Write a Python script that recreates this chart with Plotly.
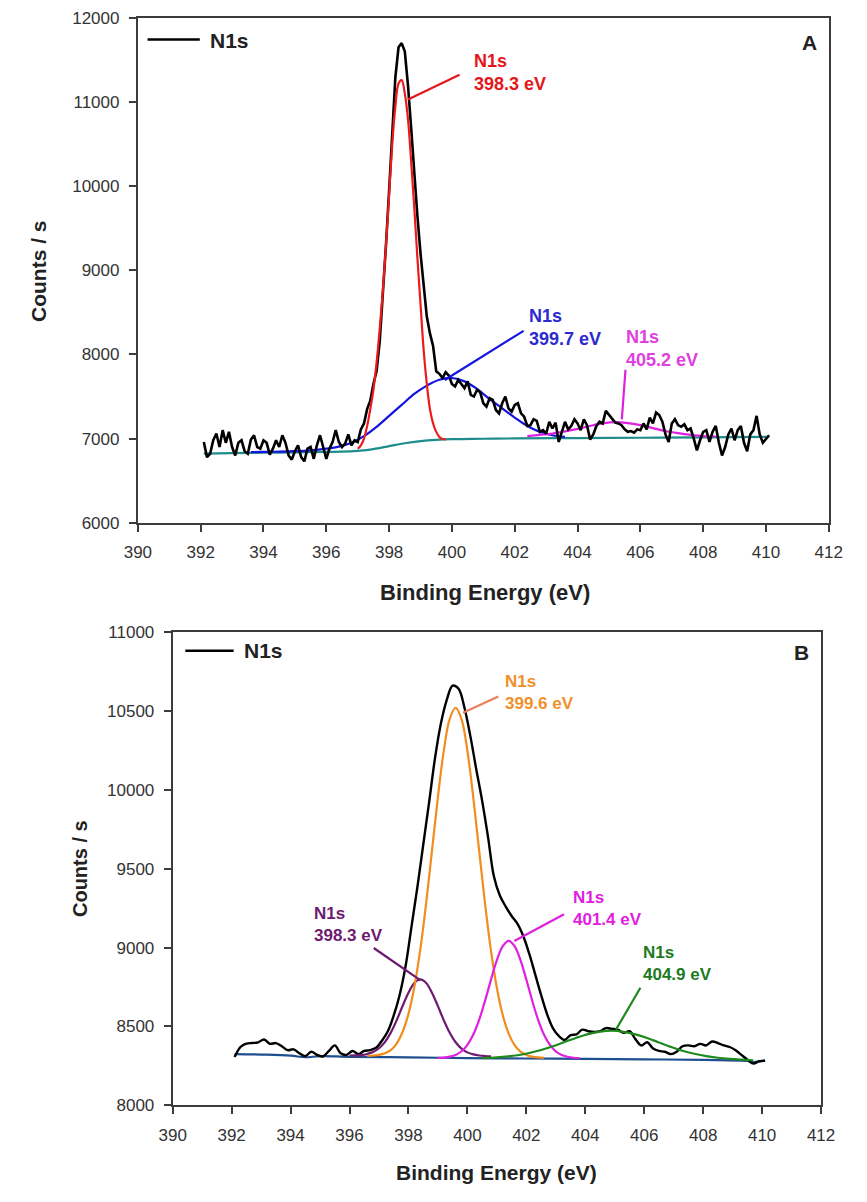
import plotly.graph_objects as go

# ---------------- Panel A data ----------------
energy_a = [round(392.1 + 0.1 * i, 1) for i in range(181)]
counts_a = [
    6960, 6780, 6820, 6980, 7060, 6900, 7100, 6950, 7080, 6900,
    6800, 6950, 6980, 6850, 6820, 6990, 7040, 6900, 6880, 6980,
    6950, 6810, 6880, 6980, 6900, 7040, 6950, 6800, 6750, 6850,
    6920, 6780, 6730, 6880, 6900, 6760, 6920, 7040, 6900, 6760,
    6880, 6960, 7100, 6960, 6900, 6940, 7050, 6920, 6980,
    6960, 7110, 7180, 7350, 7450, 7650, 7800, 8150, 8700, 9300,
    9950, 10700, 11300, 11650, 11700, 11600, 11200, 10700, 10150, 9650,
    9200, 8800, 8450, 8250, 8100, 7800, 7770, 7720, 7790, 7750,
    7650, 7620, 7700, 7650, 7600, 7680, 7520, 7500, 7580, 7550,
    7420, 7380, 7480, 7460, 7340, 7300, 7420, 7500, 7360, 7320,
    7400, 7420, 7300, 7260, 7150, 7160, 7230, 7210, 7080, 7100,
    7060, 7200, 7120, 7190, 6960, 7080, 7200, 7110, 7150, 7230,
    7180, 7100, 7230, 7160, 6990, 7050, 7150, 7200, 7180, 7330,
    7280, 7230, 7190, 7180, 7160, 7110, 7080, 7090, 7070, 7110,
    7100, 7180, 7110, 7250, 7180, 7310, 7280, 7200, 7050, 6960,
    7180, 7230, 7160, 7140, 7170, 7100, 7120, 7000, 6860, 6980,
    7080, 7100, 6960, 7080, 7150, 6950, 6800, 6900, 7050, 7120,
    6980, 7100, 7150, 6950, 6850, 7050, 7100, 7270, 7050, 6950,
    7000, 7040,
]

red_e = [397.0, 397.1, 397.2, 397.3, 397.4, 397.5, 397.6, 397.7, 397.8, 397.9,
         398.0, 398.1, 398.2, 398.3, 398.4, 398.5, 398.6, 398.7, 398.8, 398.9,
         399.0, 399.1, 399.2, 399.3, 399.4, 399.5, 399.6, 399.7, 399.8]
red_c = [6880, 6920, 7000, 7150, 7350, 7580, 7900, 8300, 8750, 9300,
         9900, 10500, 10950, 11220, 11260, 11100, 10800, 10300, 9750, 9150,
         8600, 8050, 7650, 7350, 7180, 7080, 7020, 6995, 6990]

blue_e = [393.6, 394.0, 394.5, 395.0, 395.5, 396.0, 396.4, 396.8, 397.2, 397.6,
          398.0, 398.4, 398.8, 399.2, 399.6, 400.0, 400.4, 400.8, 401.2, 401.6,
          402.0, 402.4, 402.8, 403.2, 403.6]
blue_c = [6840, 6842, 6845, 6850, 6860, 6880, 6905, 6950, 7030, 7140,
          7270, 7400, 7530, 7630, 7700, 7720, 7680, 7590, 7470, 7360,
          7250, 7150, 7080, 7040, 7020]

mag_a_e = [402.4, 402.8, 403.2, 403.6, 404.0, 404.4, 404.8, 405.2, 405.6, 406.0,
           406.4, 406.8, 407.2, 407.6, 408.0, 408.4]
mag_a_c = [7030, 7045, 7060, 7085, 7115, 7150, 7180, 7195, 7185, 7160,
           7125, 7090, 7065, 7045, 7030, 7025]

bg_a_e = [392.1, 393.0, 394.0, 395.0, 396.0, 396.5, 397.0, 397.5, 398.0, 398.5,
          399.0, 399.5, 400.0, 401.0, 402.0, 404.0, 406.0, 408.0, 410.1]
bg_a_c = [6822, 6828, 6832, 6836, 6842, 6845, 6855, 6875, 6910, 6945,
          6970, 6985, 6993, 6998, 7002, 7006, 7010, 7014, 7020]

# ---------------- Panel B data ----------------
energy_b = [round(392.1 + 0.2 * i, 1) for i in range(91)]
counts_b = [
    8306, 8370, 8392, 8395, 8400, 8418, 8390, 8395, 8375, 8350,
    8355, 8330, 8312, 8340, 8320, 8310, 8345, 8380, 8330, 8320,
    8345, 8325, 8345, 8350, 8365, 8410, 8470, 8570, 8700, 8880,
    9130, 9380, 9650, 9920, 10200, 10420, 10570, 10660, 10640, 10520,
    10340, 10130, 9930, 9700, 9450, 9330, 9260, 9200, 9150, 9070,
    8960, 8830, 8700, 8580, 8490, 8440, 8415, 8445, 8450, 8480,
    8470, 8465, 8470, 8490, 8485, 8480, 8460, 8470, 8420, 8380,
    8400, 8360, 8345, 8340, 8325, 8340, 8375, 8380, 8375, 8390,
    8380, 8405, 8395, 8380, 8370, 8350, 8320, 8290, 8265, 8280,
    8282,
]

orange_e = [round(396.6 + 0.2 * i, 1) for i in range(31)]
orange_c = [8314, 8316, 8320, 8330, 8350, 8392, 8465, 8580, 8752, 8987,
            9282, 9617, 9955, 10250, 10450, 10520, 10448, 10246, 9951, 9611,
            9276, 8980, 8744, 8571, 8455, 8382, 8341, 8320, 8309, 8304, 8302]

purple_e = [round(396.0 + 0.2 * i, 1) for i in range(25)]
purple_c = [8316, 8317, 8319, 8326, 8338, 8362, 8401, 8461, 8540, 8630,
            8714, 8776, 8798, 8776, 8713, 8629, 8539, 8460, 8400, 8360,
            8336, 8323, 8316, 8313, 8311]

mag_b_e = [round(399.0 + 0.2 * i, 1) for i in range(25)]
mag_b_c = [8301, 8303, 8309, 8320, 8343, 8384, 8449, 8543, 8664, 8797,
           8921, 9009, 9042, 9009, 8921, 8797, 8663, 8542, 8448, 8383,
           8342, 8319, 8308, 8302, 8300]

green_e = [round(400.5 + 0.4 * i, 1) for i in range(24)]
green_c = [8300, 8303, 8309, 8318, 8332, 8351, 8375, 8402, 8429, 8452,
           8467, 8473, 8466, 8450, 8427, 8399, 8371, 8346, 8327, 8312,
           8302, 8295, 8290, 8286]

bg_b_e = [392.1, 393.0, 394.0, 394.5, 395.0, 396.0, 398.0, 400.0, 402.0, 404.0,
          406.0, 408.0, 409.5, 409.7, 410.1]
bg_b_c = [8325, 8322, 8315, 8305, 8312, 8308, 8304, 8300, 8297, 8295,
          8292, 8288, 8282, 8275, 8285]

x_ticks = [390, 392, 394, 396, 398, 400, 402, 404, 406, 408, 410, 412]
y_ticks_a = [6000, 7000, 8000, 9000, 10000, 11000, 12000]
y_ticks_b = [8000, 8500, 9000, 9500, 10000, 10500, 11000]

FONT = "Liberation Sans, Arial, sans-serif"
AXC = "#3c3c3c"

fig = go.Figure()

def add(x, y, color, width, xa, ya, shape="spline"):
    fig.add_trace(go.Scatter(x=x, y=y, mode="lines", xaxis=xa, yaxis=ya,
                             line=dict(color=color, width=width, shape=shape),
                             showlegend=False, hoverinfo="skip"))

# Panel A
add(bg_a_e, bg_a_c, "#1f8c8c", 2.2, "x", "y")
add(blue_e, blue_c, "#1414e0", 2.2, "x", "y")
add(mag_a_e, mag_a_c, "#e020e0", 2.2, "x", "y")
add(energy_a, counts_a, "#000000", 2.6, "x", "y", "linear")
add(red_e, red_c, "#ee1a1a", 2.2, "x", "y")

# Panel B
add(bg_b_e, bg_b_c, "#1f4e8f", 2.2, "x2", "y2")
add(energy_b, counts_b, "#000000", 2.4, "x2", "y2")
add(purple_e, purple_c, "#6e1a70", 2.2, "x2", "y2")
add(orange_e, orange_c, "#f28c1c", 2.2, "x2", "y2")
add(mag_b_e, mag_b_c, "#e020e0", 2.2, "x2", "y2")
add(green_e, green_c, "#1e8a1e", 2.2, "x2", "y2")

axis_common = dict(showgrid=False, zeroline=False, showline=True, mirror=True,
                   linecolor=AXC, linewidth=2, ticks="outside", ticklen=7,
                   tickwidth=2, tickcolor=AXC, tickformat="d",
                   tickfont=dict(family=FONT, size=17, color="#333333"))

fig.update_layout(
    width=867, height=1202,
    margin=dict(l=0, r=0, t=0, b=0),
    paper_bgcolor="white", plot_bgcolor="white",
    showlegend=False,
    xaxis=dict(domain=[128/867, 842/867], range=[390, 412], tickvals=x_ticks,
               anchor="y", ticklabelstandoff=6, **axis_common),
    yaxis=dict(domain=[1-522/1202, 1-9/1202], range=[6000, 12000],
               tickvals=y_ticks_a, anchor="x", ticklabelstandoff=6, **axis_common),
    xaxis2=dict(domain=[164/867, 834/867], range=[390, 412], tickvals=x_ticks,
                anchor="y2", ticklabelstandoff=6, **axis_common),
    yaxis2=dict(domain=[1-1114/1202, 1-633/1202], range=[8000, 11000],
                tickvals=y_ticks_b, anchor="x2", ticklabelstandoff=6, **axis_common),
)

ann = []

def ptxt(x, y, text, size, color="#222222", angle=0, xanchor="center"):
    ann.append(dict(xref="paper", yref="paper", x=x/867, y=1-y/1202, text=text,
                    showarrow=False, xanchor=xanchor, yanchor="middle", textangle=angle,
                    font=dict(family=FONT, size=size, color=color)))

# axis titles
ptxt(487, 593, "<b>Binding Energy (eV)</b>", 22)
ptxt(26, 266, "<b>Counts / s</b>", 21, angle=-90)
ptxt(499, 1182, "<b>Binding Energy (eV)</b>", 21)
ptxt(68, 873, "<b>Counts / s</b>", 20, angle=-90)
# panel letters
ptxt(822, 34, "<b>A</b>", 21)
ptxt(814, 654, "<b>B</b>", 21)
# legend texts
ptxt(200, 32, "<b>N1s</b>", 21, xanchor="left")
ptxt(236, 652, "<b>N1s</b>", 21, xanchor="left")

# legend keys
fig.add_shape(type="line", xref="paper", yref="paper", x0=138/867, x1=192/867,
              y0=1-31/1202, y1=1-31/1202, line=dict(color="black", width=2.6))
fig.add_shape(type="line", xref="paper", yref="paper", x0=177/867, x1=227/867,
              y0=1-652/1202, y1=1-652/1202, line=dict(color="black", width=2.4))

def label(xa, ya, x, y, text, color, size):
    ann.append(dict(xref=xa, yref=ya, x=x, y=y, text="<b>" + text + "</b>",
                    showarrow=False, xanchor="left", yanchor="middle", align="left",
                    font=dict(family=FONT, size=size, color=color)))

def leader(xa, ya, hx, hy, tx, ty, color):
    ann.append(dict(xref=xa, yref=ya, x=hx, y=hy, axref=xa, ayref=ya, ax=tx, ay=ty,
                    text="", showarrow=True, arrowhead=0, arrowwidth=2.2,
                    arrowcolor=color))

# Panel A peak labels
label("x", "y", 400.63, 11351, "N1s<br>398.3 eV", "#e4161c", 18)
leader("x", "y", 398.6, 11029, 400.29, 11333, "#e4161c")
label("x", "y", 402.39, 8316, "N1s<br>399.7 eV", "#2a2ad0", 18)
leader("x", "y", 399.77, 7696, 402.33, 8292, "#1414e0")
label("x", "y", 405.47, 8070, "N1s<br>405.2 eV", "#e040e0", 18)
leader("x", "y", 405.41, 7228, 405.53, 7836, "#e020e0")

# Panel B peak labels
label("x2", "y2", 401.2, 10614, "N1s<br>399.6 eV", "#f0902a", 17)
leader("x2", "y2", 399.85, 10489, 401.1, 10595, "#e8805a")
label("x2", "y2", 394.73, 9148, "N1s<br>398.3 eV", "#6e1a70", 17)
leader("x2", "y2", 398.41, 8792, 396.77, 9004, "#6e1a70")
label("x2", "y2", 403.5, 9248, "N1s<br>401.4 eV", "#e020e0", 17)
leader("x2", "y2", 401.59, 9042, 403.33, 9216, "#e020e0")
label("x2", "y2", 405.9, 8898, "N1s<br>404.9 eV", "#1e7a1e", 17)
leader("x2", "y2", 405.04, 8480, 405.9, 8755, "#1e8a1e")

fig.update_layout(annotations=ann)
fig.write_html(
    "out.html",
    config={"responsive": False},
    post_script="document.body.style.margin='0';document.body.style.overflow='hidden';",
)
